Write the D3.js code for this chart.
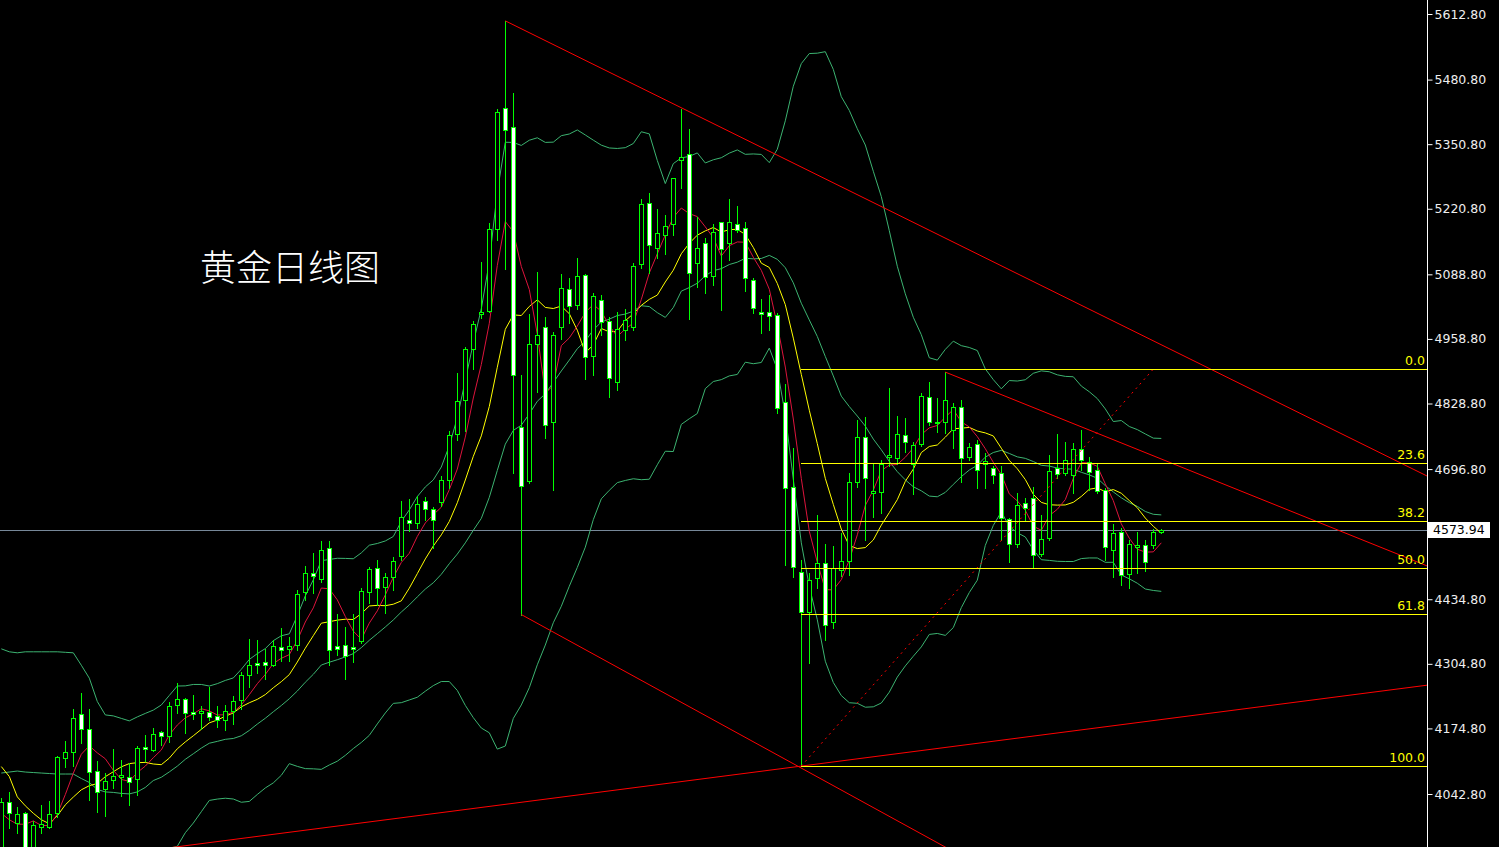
<!DOCTYPE html>
<html><head><meta charset="utf-8">
<script src="https://cdn.jsdelivr.net/npm/d3@7"></script>
<style>html,body{margin:0;padding:0;background:#000;overflow:hidden}</style>
</head><body>
<svg id="chart" width="1499" height="847"></svg>
<script>
// ---- Daily candles (index 0..145), prices ----
const opens = [3914,4026,3985,4004,3926,3977,3977,4004,4116,4128,
4203,4173,4089,4052,4070,4078,4077,4072,4137,4132,
4167,4159,4221,4234,4207,4205,4208,4199,4192,4209,
4231,4282,4306,4308,4303,4339,4334,4342,4449,4488,
4475,4537,4340,4342,4339,4351,4450,4498,4460,4480,
4521,4595,4589,4633,4617,4630,4675,4767,4835,4939,
5008,5014,5180,5423,5386,4781,4672,4948,4983,4792,
4982,5059,5028,5087,4925,5037,4994,4873,4977,4983,
5109,5232,5142,5167,5191,5318,5332,5111,5151,5086,
5194,5151,5191,5183,5077,5012,5012,5006,4831,4660,
4489,4409,4477,4507,4388,4493,4512,4670,4761,4649,
4651,4722,4720,4765,4708,4747,4841,4789,4792,4776,
4821,4722,4747,4707,4698,4688,4596,4547,4628,4638,
4525,4559,4698,4688,4685,4737,4712,4695,4655,4533,
4570,4485,4540,4544,4544,4570];
const highs = [4035,4046,4017,4007,3989,4021,4028,4119,4149,4213,
4246,4214,4109,4085,4133,4111,4105,4140,4162,4176,
4170,4228,4266,4237,4243,4220,4259,4220,4221,4240,
4288,4355,4353,4335,4353,4376,4359,4453,4502,4527,
4552,4552,4405,4379,4405,4457,4500,4514,4487,4519,
4633,4636,4643,4641,4620,4683,4773,4891,4943,4995,
5114,5192,5421,5599,5454,4886,5009,5093,5003,4973,
5089,5081,5122,5089,5051,5047,5002,5012,5019,5111,
5240,5252,5220,5208,5283,5422,5381,5205,5162,5191,
5195,5240,5226,5194,5081,5039,5047,5011,4869,4739,
4514,4487,4604,4547,4541,4568,4689,4796,4802,4710,
4715,4861,4804,4799,4751,4849,4872,4839,4892,4830,
4836,4750,4755,4730,4703,4703,4598,4648,4638,4661,
4604,4725,4767,4752,4750,4775,4722,4708,4659,4586,
4578,4554,4571,4554,4576,4577];
const lows = [3898,3974,3964,3914,3914,3964,3975,3997,4098,4100,
4145,4031,4007,3999,4054,4039,4021,4040,4110,4130,
4141,4148,4205,4165,4194,4174,4192,4178,4172,4184,
4214,4259,4286,4274,4300,4310,4310,4333,4433,4448,
4470,4302,4323,4275,4309,4347,4427,4423,4408,4453,
4513,4572,4579,4594,4537,4622,4659,4756,4773,4899,
5001,5013,5158,5100,4688,4404,4668,4852,4760,4655,
4958,4990,5020,4879,4886,4967,4842,4855,4957,4977,
5102,5091,5121,5130,5168,5262,4998,5064,5052,5067,
5016,5118,5174,5056,5010,4970,4977,4809,4503,4480,
4099,4306,4457,4353,4376,4482,4483,4661,4554,4601,
4608,4702,4708,4732,4646,4743,4786,4772,4769,4739,
4671,4715,4658,4658,4668,4555,4510,4540,4594,4500,
4522,4554,4679,4685,4648,4695,4655,4648,4514,4480,
4463,4457,4488,4492,4537,4569];
const closes = [4027,4004,4002,3930,3980,3982,4002,4117,4127,4195,
4173,4087,4046,4068,4079,4081,4067,4135,4133,4163,
4159,4219,4234,4206,4203,4210,4198,4192,4209,4229,
4282,4302,4302,4302,4340,4333,4340,4445,4487,4482,
4533,4332,4334,4320,4334,4451,4495,4457,4480,4512,
4600,4588,4626,4616,4595,4675,4765,4833,4938,4988,
5012,5180,5416,5379,4886,4662,4948,4966,4785,4966,
5061,5026,5085,4923,5045,4993,4880,4978,4997,5106,
5230,5147,5171,5187,5282,5324,5091,5141,5084,5173,
5140,5194,5179,5081,5022,5008,5004,4819,4658,4499,
4409,4473,4507,4382,4498,4511,4670,4761,4678,4652,
4708,4725,4767,4751,4745,4844,4792,4791,4835,4821,
4720,4741,4694,4713,4684,4598,4545,4624,4618,4524,
4557,4693,4687,4716,4737,4716,4690,4653,4539,4568,
4483,4545,4543,4509,4571,4573.94];

// Indicator values at the left edge (before enough bars exist)
const bbUpperHead = [4335,4329,4327,4329,4329,4329,4329,4329,4328,4327,4302,4276,4229,4202,4200,4195,4190,4198,4205];
const bbMidHead   = [4085,4087,4089,4087,4086,4085,4084,4083,4083,4083,4074,4066,4052,4047,4046,4044,4043,4047,4056];
const ma10Head    = [4098,4078,4037,4019,4004,3991,3983,3999,4021];
const ma5Head     = [4004,3991,3982,3982];

// Axis tick labels
const yTicks = [5612.8,5480.8,5350.8,5220.8,5088.8,4958.8,4828.8,4696.8,4434.8,4304.8,4174.8,4042.8];
const lastPrice = 4573.94;

// Fibonacci retracement (bar index, price)
const fibFrom = [100, 4099];
const fibTo = [144, 4898];
const fibLevels = [0, 23.6, 38.2, 50, 61.8, 100];

// Trend lines: two anchors [bar index, price]; extendLeft/Right
const trendA = [[63,5599],[118,4892],[65,4404],[21.7,3936]];
const trendB = [[178.2,4683],[178.2,4502],[118,3936],[100,4099]];
const trendLeft = [false,false,false,true];

const title = "黄金日线图";

// ---- scales ----
const W = 1499, H = 847, plotRight = 1427;
const n = closes.length;
const xs = d3.scaleLinear().domain([0, 145]).range([1.3, 1161.3]);
const ys = d3.scaleLinear().domain([5612.8, 4042.8]).range([14, 794]);
const px = k => Math.round(xs(k));

// ---- indicators computed from closes ----
function sma(p, k){ let s = 0; for (let i = k - p + 1; i <= k; i++) s += closes[i]; return s / p; }
const idx = d3.range(n);
const ma5 = idx.map(k => k < 4 ? ma5Head[k] : sma(5, k));
const ma10 = idx.map(k => k < 9 ? ma10Head[k] : sma(10, k));
const bb = idx.map(k => {
  if (k < 19) return {u: bbUpperHead[k], m: bbMidHead[k], l: 2*bbMidHead[k] - bbUpperHead[k]};
  const m = sma(20, k); let v = 0;
  for (let i = k - 19; i <= k; i++) v += (closes[i] - m) ** 2;
  const sd = Math.sqrt(v / 20);
  return {u: m + 2*sd, m: m, l: m - 2*sd};
});

const svg = d3.select('#chart');
svg.append('rect').attr('width', W).attr('height', H).attr('fill', '#000');
svg.append('defs').append('clipPath').attr('id', 'plot')
  .append('rect').attr('x', 0).attr('y', 0).attr('width', plotRight).attr('height', H);
const plot = svg.append('g').attr('clip-path', 'url(#plot)');

// title
plot.append('text').attr('x', 200).attr('y', 281)
  .attr('font-family', '"Noto Sans CJK SC", sans-serif').attr('font-size', 36).attr('font-weight', 300)
  .attr('fill', '#ffffff').text(title);

// current price line
plot.append('line').attr('x1', 0).attr('x2', plotRight)
  .attr('y1', Math.round(ys(lastPrice)) + 0.5).attr('y2', Math.round(ys(lastPrice)) + 0.5)
  .attr('stroke', '#778899').attr('stroke-width', 1);

// indicator lines
const lineGen = arr => d3.line().x(k => xs(k)).y(k => ys(arr[k]))(idx);
const bbColor = '#3cb371';
[bb.map(d => d.u), bb.map(d => d.m), bb.map(d => d.l)].forEach(arr => {
  plot.append('path').attr('d', lineGen(arr)).attr('fill', 'none').attr('stroke', bbColor).attr('stroke-width', 1);
});
plot.append('path').attr('d', lineGen(ma10)).attr('fill', 'none').attr('stroke', '#ffff00').attr('stroke-width', 1);
plot.append('path').attr('d', lineGen(ma5)).attr('fill', 'none').attr('stroke', '#dc143c').attr('stroke-width', 1);

// candles
const cg = plot.append('g').attr('shape-rendering', 'crispEdges');
cg.selectAll('line.wick').data(idx).join('line').attr('class', 'wick')
  .attr('x1', k => px(k) + 0.5).attr('x2', k => px(k) + 0.5)
  .attr('y1', k => Math.round(ys(highs[k]))).attr('y2', k => Math.round(ys(lows[k])) + 1)
  .attr('stroke', '#00ff00').attr('stroke-width', 1);
cg.selectAll('rect.body').data(idx).join('rect').attr('class', 'body')
  .attr('x', k => px(k) - 2 + 0.5).attr('width', 4)
  .attr('y', k => Math.round(ys(Math.max(opens[k], closes[k]))) + 0.5)
  .attr('height', k => Math.max(1, Math.round(ys(Math.min(opens[k], closes[k]))) - Math.round(ys(Math.max(opens[k], closes[k])))))
  .attr('fill', k => closes[k] >= opens[k] ? '#000000' : '#ffffff')
  .attr('stroke', '#00ff00').attr('stroke-width', 1);

// trend lines
const kEdge = xs.invert(plotRight);
trendA.forEach((a, i) => {
  const b = trendB[i];
  const slope = (b[1] - a[1]) / (b[0] - a[0]);
  const k0 = trendLeft[i] ? xs.invert(0) : a[0];
  const k1 = kEdge;
  plot.append('line')
    .attr('x1', xs(k0)).attr('y1', ys(a[1] + slope * (k0 - a[0])))
    .attr('x2', xs(k1)).attr('y2', ys(a[1] + slope * (k1 - a[0])))
    .attr('stroke', '#ff0000').attr('stroke-width', 1);
});

// fibonacci
plot.append('line')
  .attr('x1', xs(fibFrom[0])).attr('y1', ys(fibFrom[1]))
  .attr('x2', xs(fibTo[0])).attr('y2', ys(fibTo[1]))
  .attr('stroke', '#ff0000').attr('stroke-width', 1).attr('stroke-dasharray', '2,4');
fibLevels.forEach(lv => {
  const p = fibTo[1] - (fibTo[1] - fibFrom[1]) * lv / 100;
  const y = Math.round(ys(p)) + 0.5;
  plot.append('line').attr('x1', Math.round(xs(fibFrom[0]))).attr('x2', plotRight)
    .attr('y1', y).attr('y2', y).attr('stroke', '#ffff00').attr('stroke-width', 1);
  plot.append('text').attr('x', plotRight - 2).attr('y', y - 4.5)
    .attr('text-anchor', 'end').attr('font-family', '"DejaVu Sans", sans-serif')
    .attr('font-size', 12.5).attr('fill', '#ffff00').text(lv.toFixed(1));
});

// right axis
svg.append('line').attr('x1', plotRight + 0.5).attr('x2', plotRight + 0.5).attr('y1', 0).attr('y2', H)
  .attr('stroke', '#ffffff').attr('stroke-width', 1);
const axis = d3.axisRight(ys).tickValues(yTicks).tickSize(5).tickPadding(2).tickFormat(d3.format('.2f'));
const ag = svg.append('g').attr('transform', `translate(${plotRight + 0.5},0)`).call(axis);
ag.select('.domain').remove();
ag.selectAll('.tick line').attr('stroke', '#ffffff');
ag.selectAll('.tick text').attr('fill', '#eeeeee').attr('font-family', '"DejaVu Sans", sans-serif').attr('font-size', 12.5);

// last price label
const ly = ys(lastPrice);
svg.append('rect').attr('x', plotRight + 1).attr('y', Math.round(ly) - 8).attr('width', 62).attr('height', 16).attr('fill', '#ffffff');
svg.append('text').attr('x', plotRight + 6).attr('y', ly).attr('dy', '0.35em')
  .attr('font-family', '"DejaVu Sans", sans-serif').attr('font-size', 12.5).attr('fill', '#000000')
  .text(lastPrice.toFixed(2));
</script>
</body></html>
